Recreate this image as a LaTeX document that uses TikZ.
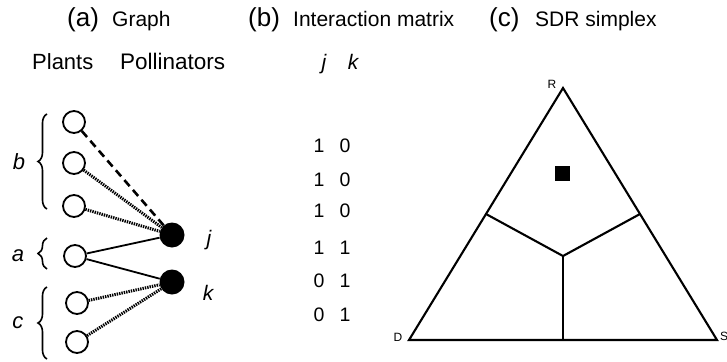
\documentclass[tikz,border=0pt]{standalone}
\usepackage{fontspec}
\setmainfont{Liberation Sans}
\usetikzlibrary{positioning,calc,decorations.pathreplacing}

\tikzset{
  plant/.style={circle, draw, line width=1.8pt, minimum size=22pt, inner sep=0pt},
  poll/.style={circle, fill, minimum size=25pt, inner sep=0pt},
  dotedge/.style={line width=3pt, dash pattern=on 1.4pt off 1pt},
  dashedge/.style={line width=2.6pt, dash pattern=on 8pt off 5pt},
  solidedge/.style={line width=1.8pt},
  bracemark/.style={decorate, decoration={brace, amplitude=9pt}, line width=1.6pt},
  simplexline/.style={line width=2.1pt, line join=miter},
}

\begin{document}
\begin{tikzpicture}[x=1pt, y=-1pt]
        \useasboundingbox (0,0) rectangle (727,361);

        % Panel titles
        \node[anchor=base west, inner sep=0pt, font=\fontsize{26}{28}\selectfont] (ta) at (67,27) {(a)};
        \node[anchor=base west, inner sep=0pt, font=\fontsize{21}{24}\selectfont] (tga) at (112,27) {Graph};
        \node[anchor=base west, inner sep=0pt, font=\fontsize{26}{28}\selectfont] (tb) at (248,27) {(b)};
        \node[anchor=base west, inner sep=0pt, font=\fontsize{21}{24}\selectfont] (tgb) at (293,27) {Interaction matrix};
        \node[anchor=base west, inner sep=0pt, font=\fontsize{26}{28}\selectfont] (tc) at (489,27) {(c)};
        \node[anchor=base west, inner sep=0pt, font=\fontsize{21}{24}\selectfont] (tgc) at (535,27) {SDR simplex};

        % Column headings
        \node[anchor=base west, inner sep=0pt, font=\fontsize{22}{24}\selectfont] (hplants) at (32,70) {Plants};
        \node[anchor=base west, inner sep=0pt, font=\fontsize{22.5}{24}\selectfont] (hpoll) at (120,70) {Pollinators};
        \node[anchor=base, inner sep=0pt, font=\fontsize{21}{24}\selectfont\itshape] (hj) at (324,70) {j};
        \node[anchor=base, inner sep=0pt, font=\fontsize{21}{24}\selectfont\itshape] (hk) at (353,70) {k};

        % Plants (open circles)
        \node[plant] (p1) at (74,122) {};
        \node[plant] (p2) at (74,163) {};
        \node[plant] (p3) at (74,206) {};
        \node[plant] (p4) at (75,256) {};
        \node[plant] (p5) at (77,303) {};
        \node[plant] (p6) at (77,342) {};

        % Pollinators (filled circles)
        \node[poll] (pj) at (172,235) {};
        \node[poll] (pk) at (172,282) {};
        \node[font=\fontsize{21}{24}\selectfont\itshape] (lj) at (209,240) {j};
        \node[font=\fontsize{21}{24}\selectfont\itshape] (lk) at (208,293) {k};

        % Links
        \draw[dashedge] (p1) -- (pj);
        \draw[dotedge] (p2) -- (pj);
        \draw[dotedge] (p3) -- (pj);
        \draw[solidedge] (p4) -- (pj);
        \draw[solidedge] (p4) -- (pk);
        \draw[dotedge] (p5) -- (pk);
        \draw[dotedge] (p6) -- (pk);

        % Groups
        \coordinate (bbot) at (47,209);
        \coordinate (btop) at (47,114);
        \coordinate (abot) at (47,269);
        \coordinate (atop) at (47,238);
        \coordinate (cbot) at (47,359);
        \coordinate (ctop) at (47,287);
        \draw[bracemark] (bbot) -- (btop);
        \draw[bracemark] (abot) -- (atop);
        \draw[bracemark] (cbot) -- (ctop);
        \node[font=\fontsize{22}{24}\selectfont\itshape] (gb) at (19,162) {b};
        \node[font=\fontsize{22}{24}\selectfont\itshape] (ga) at (18,256) {a};
        \node[font=\fontsize{22}{24}\selectfont\itshape] (gc) at (18,323) {c};

        % Interaction matrix
        \foreach \row/\vj/\vk/\ypos in {1/1/0/146, 2/1/0/180, 3/1/0/211, 4/1/1/248, 5/0/1/281, 6/0/1/315} {
            \node[font=\fontsize{19.5}{22}\selectfont] (mj\row) at (319,\ypos) {\vj};
            \node[font=\fontsize{19.5}{22}\selectfont] (mk\row) at (345,\ypos) {\vk};
        }

        % SDR simplex
        \coordinate (R) at (563,88);
        \coordinate (D) at (409,340);
        \coordinate (S) at (717,340);
        \coordinate (mid) at (563,256);
        \coordinate (dr) at ($(D)!0.5!(R)$);
        \coordinate (rs) at ($(R)!0.5!(S)$);
        \coordinate (ds) at ($(D)!0.5!(S)$);
        \draw[simplexline] (D) -- (R) -- (S) -- cycle;
        \draw[simplexline] (dr) -- (mid) -- (rs);
        \draw[simplexline] (mid) -- (ds);
        \node[fill, minimum size=15pt, inner sep=0pt] (state) at (562,173) {};
        \node[font=\fontsize{12}{14}\selectfont] (lr) at (552,84) {R};
        \node[font=\fontsize{12}{14}\selectfont] (ld) at (398,337) {D};
        \node[font=\fontsize{12}{14}\selectfont] (ls) at (724,336) {S};
    \end{tikzpicture}
\end{document}
